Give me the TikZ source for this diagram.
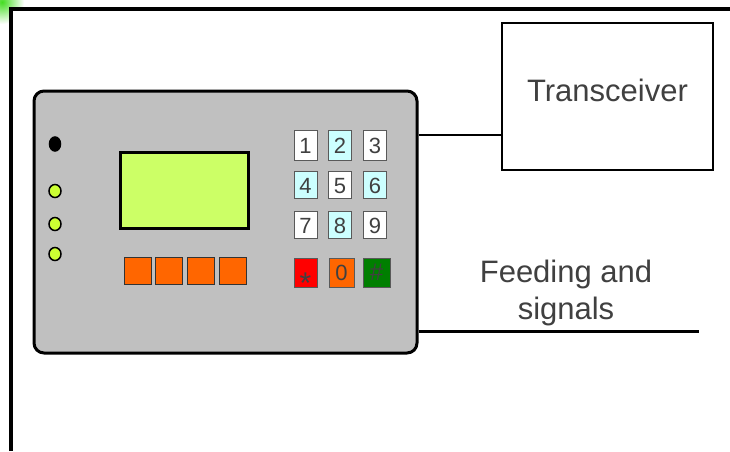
\documentclass[tikz,border=0pt]{standalone}
\usepackage{fontspec}
\setmainfont{Liberation Sans}
\usepackage{xcolor}
\usepackage{tikz}
\usetikzlibrary{shapes.geometric,calc}

\definecolor{panelgray}{HTML}{C0C0C0}
\definecolor{lcdgreen}{HTML}{CCFF66}
\definecolor{ledyellow}{HTML}{CCFF33}
\definecolor{btnorange}{HTML}{FF6600}
\definecolor{keycyan}{HTML}{CCFFFF}
\definecolor{keyred}{HTML}{FF0000}
\definecolor{keygreen}{HTML}{007F00}
\definecolor{labelgray}{HTML}{404040}
\definecolor{cornergreen}{HTML}{44DD22}

\tikzset{
	labeltext/.style={text=labelgray,font=\fontsize{31}{37}\selectfont},
	key/.style={draw=black!65,line width=1,inner sep=0,text height=16,text depth=0,
		text=labelgray,font=\fontsize{22}{22}\selectfont},
	led/.style={ellipse,draw,line width=1.5,minimum width=12,minimum height=13,inner sep=0},
	softkey/.style={draw=black!80,line width=1,fill=btnorange,minimum size=27,inner sep=0},
	wire/.style={line width=3},
}

\begin{document}
\begin{tikzpicture}[x=1pt,y=-1pt]
	\useasboundingbox (0,0) rectangle (730,451);
	\fill[white] (0,0) rectangle (730,451);

	% green glow at the outer corner
	\begin{scope}
		\clip (0,0) -- (730,0) -- (730,8.5) -- (11,8.5) -- (11,451) -- (0,451) -- cycle;
		\shade[inner color=cornergreen,outer color=white] (2,2) circle (22);
	\end{scope}
	\draw[line width=4] (11,451) -- (11,8.5) -- (730,8.5);

	% the terminal
	\node[draw,line width=3,fill=panelgray,rounded corners=10,minimum width=383,
		minimum height=262,inner sep=0] (panel) at (225.5,222) {};
	\node[draw,line width=3,fill=lcdgreen,minimum width=128,minimum height=76,
		inner sep=0] (lcd) at (184,190) {};

	\node[led,fill=black,minimum width=11,minimum height=14] (led0) at (55,144) {};
	\foreach \y [count=\i] in {191,224,254}
		\node[led,fill=ledyellow] (led\i) at (55,\y) {};

	\foreach \x [count=\i] in {137.5,169,201,232.5}
		\node[softkey] (f\i) at (\x,270.5) {};

	\foreach \t/\x/\y/\h/\c [count=\i] in {
		1/305.5/145/30/white, 2/340/145/30/keycyan, 3/375/145/30/white,
		4/305.5/185/27/keycyan, 5/340/185/27/white, 6/375/185/27/keycyan,
		7/305.5/225/27/white, 8/340/225/27/keycyan, 9/375/225/27/white}
		\node[key,fill=\c,minimum width=23,minimum height=\h] (k\i) at (\x,\y) {\t};

	\node[key,fill=keyred,minimum width=23,minimum height=29] (kstar) at (305.5,272.5)
		{\raisebox{-13pt}{\fontsize{30}{30}\selectfont *}};
	\node[key,fill=btnorange,minimum width=25,minimum height=29] (kzero) at (341.5,272.5) {0};
	\node[key,fill=keygreen,minimum width=27,minimum height=29] (khash) at (376.5,272.5)
		{\fontsize{24}{24}\selectfont\#};

	% radio and supply side
	\node[draw,line width=2.5,minimum width=211,minimum height=147,labeltext,
		text depth=12] (trx) at (607.5,96.5) {Transceiver};
	\node[labeltext,align=center] (feed) at (566,293) {Feeding and\\signals};

	\coordinate (trxin) at (502,135);
	\coordinate (feedend) at (699,331);
	\draw[wire,line width=2.5] (panel.east |- trxin) -- (trx.west |- trxin);
	\draw[wire] (panel.east |- feedend) -- (feedend);
\end{tikzpicture}
\end{document}
